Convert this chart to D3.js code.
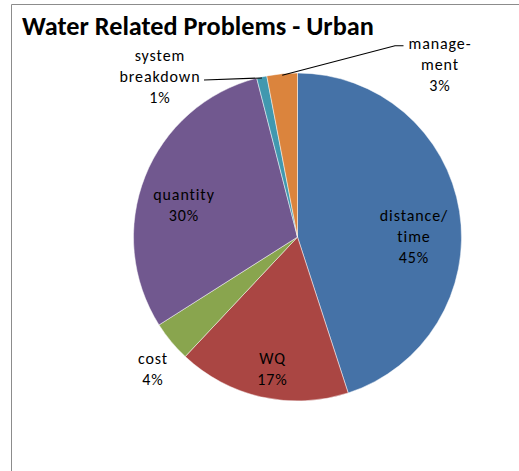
<!DOCTYPE html>
<html>
<head>
<meta charset="utf-8">
<script src="https://cdn.jsdelivr.net/npm/d3@7"></script>
<style>
  html, body { margin: 0; padding: 0; background: #fff; }
  svg { display: block; }
</style>
</head>
<body>
<svg id="chart" width="519" height="471"></svg>
<script>
// Share of reported water related problems, urban households
const categories = ["distance/time", "WQ", "cost", "quantity", "system breakdown", "management"];
const values = [45, 17, 4, 30, 1, 3];
const labelLines = [
  ["distance/", "time"],
  ["WQ"],
  ["cost"],
  ["quantity"],
  ["system", "breakdown"],
  ["manage-", "ment"]
];
const colors = ["#4572A7", "#AA4643", "#89A54E", "#71588F", "#4198AF", "#DB843D"];

const svg = d3.select("#chart");
const W = 519, H = 471;
const cx = 297.5, cy = 237, R = 164;
const FONT = "Carlito, Calibri, Lato, 'Open Sans', sans-serif";

// chart frame (only left and top edges fall inside the view)
svg.append("path")
  .attr("d", `M11.5,${H} V4.5 H${W}`)
  .attr("fill", "none")
  .attr("stroke", "#8c8c8c")
  .attr("stroke-width", 1);

// title
const title = svg.append("text")
  .attr("x", 22)
  .attr("y", 35)
  .attr("font-family", FONT)
  .attr("font-weight", "bold")
  .attr("font-size", 20)
  .attr("fill", "#000")
  .text("Water Related Problems - Urban");
{
  const w = title.node().getComputedTextLength();
  const target = 352;
  title.attr("font-size", 20 * target / w);
}

const data = categories.map((c, i) => ({ name: c, value: values[i], lines: labelLines[i], color: colors[i] }));

const pie = d3.pie().sort(null).value(d => d.value);
const arcs = pie(data);
const arc = d3.arc().innerRadius(0).outerRadius(R);

const g = svg.append("g").attr("transform", `translate(${cx},${cy})`);
g.selectAll("path.slice")
  .data(arcs)
  .join("path")
  .attr("class", "slice")
  .attr("d", arc)
  .attr("fill", d => d.data.color)
  .attr("stroke", "#ffffff")
  .attr("stroke-opacity", 0.6)
  .attr("stroke-width", 0.8);

// label placement: [centre x, first baseline y] for each slice label
const labelPos = [
  [414, 221],
  [272.5, 364],
  [153, 364],
  [184, 200],
  [160, 61],
  [440, 49]
];
const lineGap = 21.2;

const labels = svg.append("g")
  .attr("font-family", FONT)
  .attr("font-size", 16)
  .attr("fill", "#000")
  .attr("text-anchor", "middle");

arcs.forEach((a, i) => {
  const [lx, ly] = labelPos[i];
  const lines = a.data.lines.concat([a.data.value + "%"]);
  lines.forEach((t, k) => {
    labels.append("text")
      .attr("x", lx)
      .attr("y", ly + k * lineGap)
      .attr("letter-spacing", 0.9)
      .text(t);
  });
});

// leader lines for the two thin slices, anchored on the slice mid-angle at the rim
function rimPoint(a, r) {
  const m = (a.startAngle + a.endAngle) / 2;
  return [cx + r * Math.sin(m), cy - r * Math.cos(m)];
}
const leader = d3.line();
const sb = arcs[4], mg = arcs[5];
svg.append("path")
  .attr("d", leader([[204, 80], rimPoint(sb, R - 1)]))
  .attr("fill", "none").attr("stroke", "#000").attr("stroke-width", 1.1);
svg.append("path")
  .attr("d", leader([rimPoint(mg, R - 1.5), [395, 45.7], [403.5, 45.7]]))
  .attr("fill", "none").attr("stroke", "#000").attr("stroke-width", 1.1);
</script>
</body>
</html>
